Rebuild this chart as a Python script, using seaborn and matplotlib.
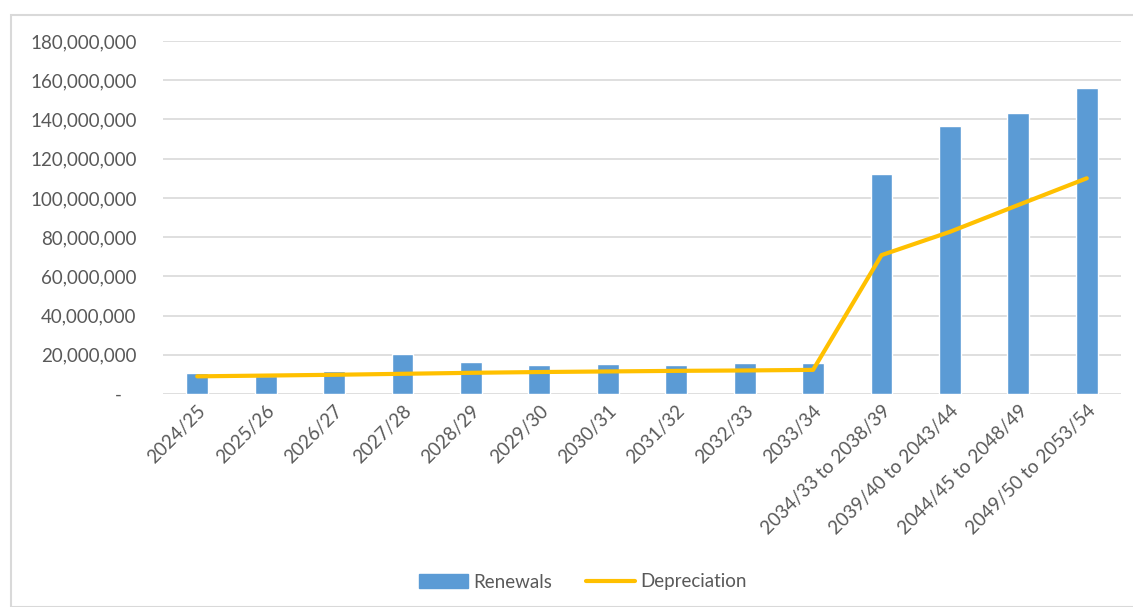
import numpy as np
import matplotlib
matplotlib.use("Agg")
import matplotlib.pyplot as plt
from matplotlib.patches import Patch, Rectangle
from matplotlib.lines import Line2D
from matplotlib.ticker import FuncFormatter, MultipleLocator
import seaborn as sns

categories = ["2024/25", "2025/26", "2026/27", "2027/28", "2028/29", "2029/30",
              "2030/31", "2031/32", "2032/33", "2033/34",
              "2034/33 to 2038/39", "2039/40 to 2043/44",
              "2044/45 to 2048/49", "2049/50 to 2053/54"]
renewals = [10.6e6, 9.3e6, 11.8e6, 20.5e6, 16.4e6, 14.7e6, 15.2e6, 14.7e6,
            15.9e6, 15.9e6, 112.1e6, 136.5e6, 143.3e6, 155.9e6]
depreciation = [9.0e6, 9.4e6, 9.8e6, 10.3e6, 10.8e6, 11.2e6, 11.5e6, 11.8e6,
                12.0e6, 12.3e6, 70.8e6, 82.7e6, 96.4e6, 110.0e6]

BAR = "#5B9BD5"
LINE = "#FFC000"
TXT = "#595959"
GRID = "#D9D9D9"

sns.set_theme(style="white")
plt.rcParams["font.family"] = ["Lato", "DejaVu Sans"]
FS = 13.5

fig = plt.figure(figsize=(11.33, 6.07), dpi=100)
ax = fig.add_axes([163/1133, 1-394/607, (1121-163)/1133, (394-41)/607])

sns.barplot(x=categories, y=renewals, color=BAR, width=0.32, saturation=1,
            ax=ax, zorder=2)
sns.lineplot(x=np.arange(len(categories)), y=depreciation, color=LINE,
             linewidth=3.0, ax=ax, zorder=3, solid_capstyle="round")

ax.set_xlim(-0.5, len(categories) - 0.5)
ax.set_ylim(0, 180e6)
ax.yaxis.set_major_locator(MultipleLocator(20e6))
ax.yaxis.set_major_formatter(FuncFormatter(lambda v, p: f"{v:,.0f}" if v else "-   "))
ax.grid(axis="y", color=GRID, linewidth=1.2, zorder=0)
ax.set_axisbelow(True)
for s in ax.spines.values():
    s.set_visible(False)
ax.tick_params(axis="both", length=0, colors=TXT, labelsize=FS)
ax.tick_params(axis="y", pad=19)
ax.tick_params(axis="x", pad=6)
plt.setp(ax.get_xticklabels(), rotation=45, ha="right", rotation_mode="anchor")
ax.set_xlabel("")
ax.set_ylabel("")

handles = [Patch(facecolor=BAR, edgecolor=BAR),
           Line2D([0], [0], color=LINE, linewidth=3.0, solid_capstyle="round")]
fig.legend(handles, ["Renewals", "Depreciation"], loc="center",
           bbox_to_anchor=(583/1133, 1-582/607), ncol=2, frameon=False,
           fontsize=FS, labelcolor=TXT, handlelength=2.6, columnspacing=1.8,
           handletextpad=0.3)

fig.patches.append(Rectangle((11/1133, 0), 1.2, 1-15/607, transform=fig.transFigure,
                             fill=False, edgecolor=GRID, linewidth=1.5))

fig.savefig("out.png", dpi=100, facecolor="white")
